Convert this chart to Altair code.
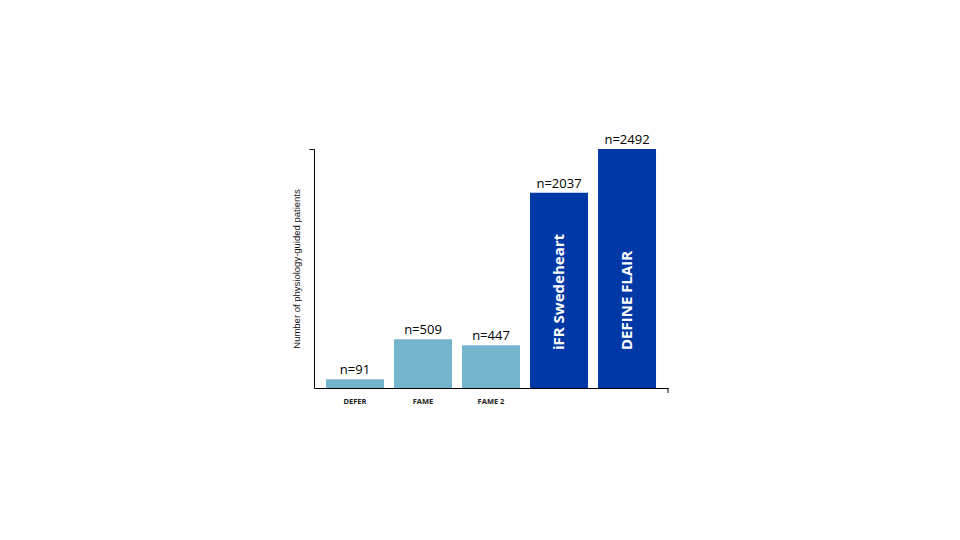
import altair as alt
import pandas as pd

studies = ["DEFER", "FAME", "FAME 2", "iFR Swedeheart", "DEFINE FLAIR"]
patients = [91, 509, 447, 2037, 2492]
bar_labels = ["n=91", "n=509", "n=447", "n=2037", "n=2492"]
inner_labels = ["", "", "", "iFR Swedeheart", "DEFINE FLAIR"]
groups = ["older", "older", "older", "ifr", "ifr"]

df = pd.DataFrame({
    "study": studies,
    "patients": patients,
    "nlabel": bar_labels,
    "inner": inner_labels,
    "group": groups,
})

W, H = 354, 239
FONT = "Open Sans"

x = alt.X(
    "study:N",
    sort=studies,
    scale=alt.Scale(paddingInner=0.147, paddingOuter=0.176),
    axis=alt.Axis(
        title=None,
        ticks=False,
        labelAngle=0,
        labelFont=FONT,
        labelFontSize=7.5,
        labelFontWeight="bold",
        labelColor="#222222",
        labelPadding=9,
        domainColor="#000000",
        domainWidth=1,
        labelExpr="indexof(['DEFER','FAME','FAME 2'], datum.value) >= 0 ? datum.value : ''",
    ),
)
y = alt.Y(
    "patients:Q",
    scale=alt.Scale(domain=[0, 2492], nice=False, zero=True),
    axis=alt.Axis(
        title="Number of physiology-guided patients",
        titleFont="Liberation Sans",
        titleFontSize=9.5,
        titleFontWeight="normal",
        titleColor="#111111",
        titlePadding=7,
        labels=False,
        values=[2492],
        tickColor="#000000",
        tickSize=5,
        domainColor="#000000",
        grid=False,
    ),
)

base = alt.Chart(df)

bars = base.mark_bar(size=58).encode(
    x=x,
    y=y,
    color=alt.Color(
        "group:N",
        scale=alt.Scale(domain=["older", "ifr"], range=["#74b4cc", "#0039a6"]),
        legend=None,
    ),
)

nlabels = base.mark_text(
    baseline="bottom", dy=-2, font=FONT, fontSize=13, color="#000000"
).encode(x=x, y=alt.Y("patients:Q"), text="nlabel:N")

inner = base.mark_text(
    angle=270, align="left", baseline="middle", font=FONT, fontSize=15,
    fontWeight="bold", color="#ffffff",
).encode(x=x, y=alt.value(H - 38), text="inner:N")

end_tick = base.mark_rule(color="#000000").encode(
    x=alt.value(W), y=alt.value(H), y2=alt.value(H + 5)
).transform_filter("datum.study == 'DEFER'")

chart = alt.layer(bars, nlabels, inner, end_tick).properties(
    width=W,
    height=H,
    autosize=alt.AutoSizeParams(type="none"),
    padding={"left": 306, "top": 141, "right": 280, "bottom": 140},
    background="#ffffff",
).configure_view(stroke=None, strokeWidth=0)

chart.save("out.html", embed_options={"renderer": "svg", "actions": False})
